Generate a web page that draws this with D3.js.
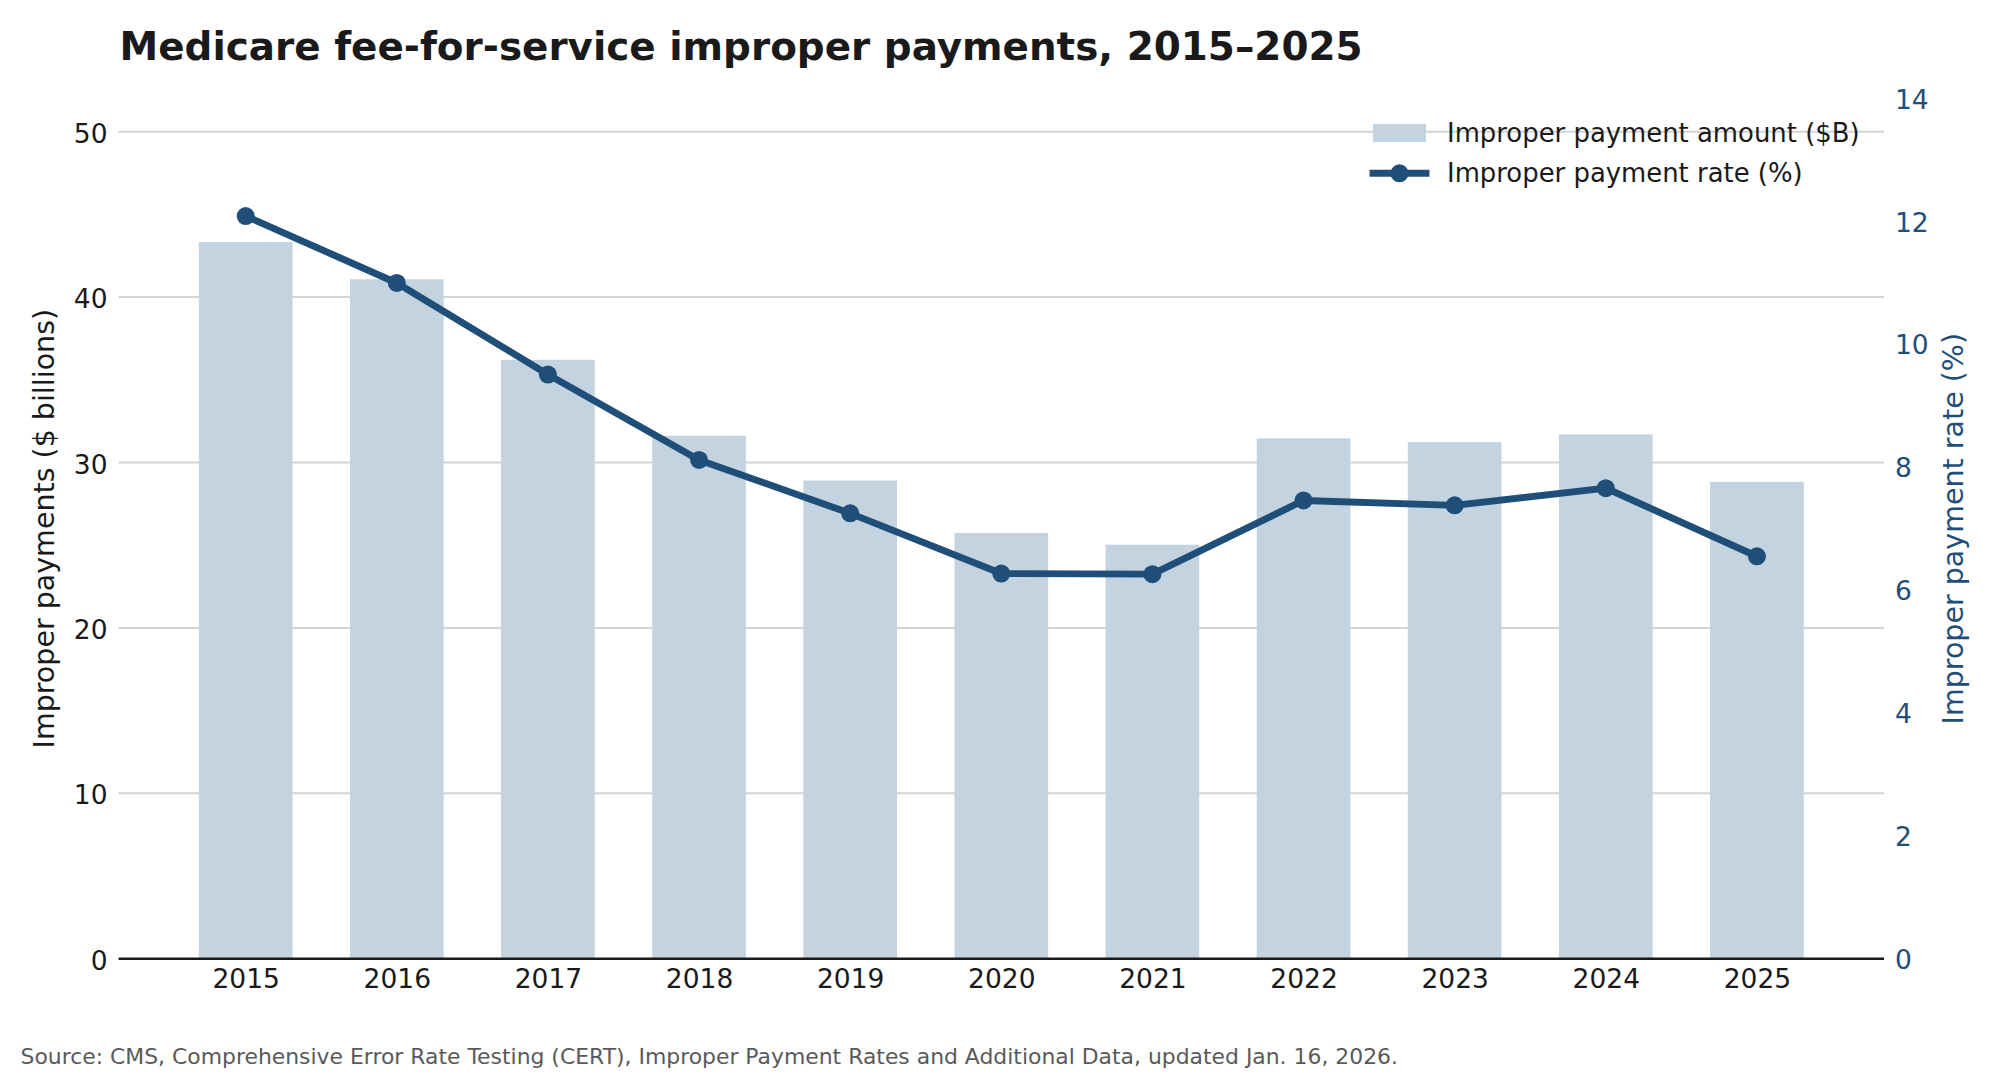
<!DOCTYPE html>
<html>
<head>
<meta charset="utf-8">
<script src="https://cdn.jsdelivr.net/npm/d3@7"></script>
<style>
  html, body { margin: 0; padding: 0; background: #ffffff; }
  svg { display: block; font-family: "DejaVu Sans", sans-serif; }
</style>
</head>
<body>
<svg id="chart" width="2000" height="1080"></svg>
<script>
// ---- Data ----
const years = ["2015","2016","2017","2018","2019","2020","2021","2022","2023","2024","2025"];
const amountsB = [43.33, 41.08, 36.21, 31.62, 28.91, 25.74, 25.03, 31.46, 31.23, 31.70, 28.83];
const ratesPct = [12.09, 11.00, 9.51, 8.12, 7.25, 6.27, 6.26, 7.46, 7.38, 7.66, 6.55];
const leftTicks = [0, 10, 20, 30, 40, 50];
const rightTicks = [0, 2, 4, 6, 8, 10, 12, 14];

const titleText = "Medicare fee-for-service improper payments, 2015\u20132025";
const leftLabel = "Improper payments ($ billions)";
const rightLabel = "Improper payment rate (%)";
const legendLabels = ["Improper payment amount ($B)", "Improper payment rate (%)"];
const sourceText = "Source: CMS, Comprehensive Error Rate Testing (CERT), Improper Payment Rates and Additional Data, updated Jan. 16, 2026.";

// ---- Layout ----
const plot = { left: 118.6, right: 1884, top: 98.7, bottom: 958.7 };
const barColor = "#c3d3e0";
const lineColor = "#1f4e79";
const textColor = "#1a1a1a";

const svg = d3.select("#chart");

const x = d3.scaleLinear().domain([-0.841, years.length - 1 + 0.841]).range([plot.left, plot.right]);
const yL = d3.scaleLinear().domain([0, d3.max(amountsB) * 1.2]).range([plot.bottom, plot.top]);
const yR = d3.scaleLinear().domain([0, 14]).range([plot.bottom, plot.top]);
const barHalf = 0.31;

// gridlines
svg.append("g").selectAll("line").data(leftTicks.filter(d => d > 0)).join("line")
  .attr("x1", plot.left).attr("x2", plot.right)
  .attr("y1", d => yL(d)).attr("y2", d => yL(d))
  .attr("stroke", "#d4d4d4").attr("stroke-width", 2);

// bars
svg.append("g").selectAll("rect").data(amountsB).join("rect")
  .attr("x", (d, i) => x(i - barHalf))
  .attr("width", (d, i) => x(i + barHalf) - x(i - barHalf))
  .attr("y", d => yL(d))
  .attr("height", d => yL(0) - yL(d))
  .attr("fill", barColor);

// bottom spine
svg.append("line")
  .attr("x1", plot.left).attr("x2", plot.right)
  .attr("y1", yL(0)).attr("y2", yL(0))
  .attr("stroke", textColor).attr("stroke-width", 2.4);

// left axis
const gL = svg.append("g").attr("transform", `translate(${plot.left},0)`)
  .call(d3.axisLeft(yL).tickValues(leftTicks).tickSize(0).tickPadding(11).tickFormat(d3.format("d")));
gL.select(".domain").remove();
gL.selectAll("text").attr("font-size", 26.5).attr("fill", textColor)
  .attr("font-family", "DejaVu Sans").attr("dy", "0.4em");

// right axis
const gR = svg.append("g").attr("transform", `translate(${plot.right},0)`)
  .call(d3.axisRight(yR).tickValues(rightTicks).tickSize(0).tickPadding(11).tickFormat(d3.format("d")));
gR.select(".domain").remove();
gR.selectAll("text").attr("font-size", 26.5).attr("fill", lineColor)
  .attr("font-family", "DejaVu Sans").attr("dy", "0.36em");

// x axis
const gX = svg.append("g").attr("transform", `translate(0,${plot.bottom})`)
  .call(d3.axisBottom(x).tickValues(d3.range(years.length)).tickSize(0).tickPadding(10).tickFormat(i => years[i]));
gX.select(".domain").remove();
gX.selectAll("text").attr("font-size", 26.5).attr("fill", textColor)
  .attr("font-family", "DejaVu Sans").attr("dy", "0.71em");

// line
const line = d3.line().x((d, i) => x(i)).y(d => yR(d));
svg.append("path").datum(ratesPct)
  .attr("d", line).attr("fill", "none")
  .attr("stroke", lineColor).attr("stroke-width", 6.9)
  .attr("stroke-linejoin", "round").attr("stroke-linecap", "square");
svg.append("g").selectAll("circle").data(ratesPct).join("circle")
  .attr("cx", (d, i) => x(i)).attr("cy", d => yR(d)).attr("r", 9)
  .attr("fill", lineColor);

// axis titles
const midY = (plot.top + plot.bottom) / 2;
svg.append("text")
  .attr("transform", `translate(53.5,${midY}) rotate(-90)`)
  .attr("text-anchor", "middle").attr("font-size", 28.5).attr("fill", textColor)
  .text(leftLabel);
svg.append("text")
  .attr("transform", `translate(1963,${midY}) rotate(-90)`)
  .attr("text-anchor", "middle").attr("font-size", 28.5).attr("fill", lineColor)
  .text(rightLabel);

// title
svg.append("text")
  .attr("x", 119.5).attr("y", 60)
  .attr("font-size", 38.9).attr("font-weight", "bold").attr("fill", textColor)
  .text(titleText);

// legend
const lg = svg.append("g");
lg.append("rect").attr("x", 1373).attr("y", 124).attr("width", 53).attr("height", 18).attr("fill", barColor);
lg.append("line").attr("x1", 1373).attr("x2", 1426).attr("y1", 173.3).attr("y2", 173.3)
  .attr("stroke", lineColor).attr("stroke-width", 6.9).attr("stroke-linecap", "square");
lg.append("circle").attr("cx", 1399.5).attr("cy", 173.3).attr("r", 9).attr("fill", lineColor);
lg.selectAll("text").data(legendLabels).join("text")
  .attr("x", 1447).attr("y", (d, i) => 141.5 + i * 40)
  .attr("font-size", 25.9).attr("fill", textColor)
  .text(d => d);

// source
svg.append("text")
  .attr("x", 20.5).attr("y", 1064)
  .attr("font-size", 21.9).attr("fill", "#5a5a5a")
  .text(sourceText);
</script>
</body>
</html>
